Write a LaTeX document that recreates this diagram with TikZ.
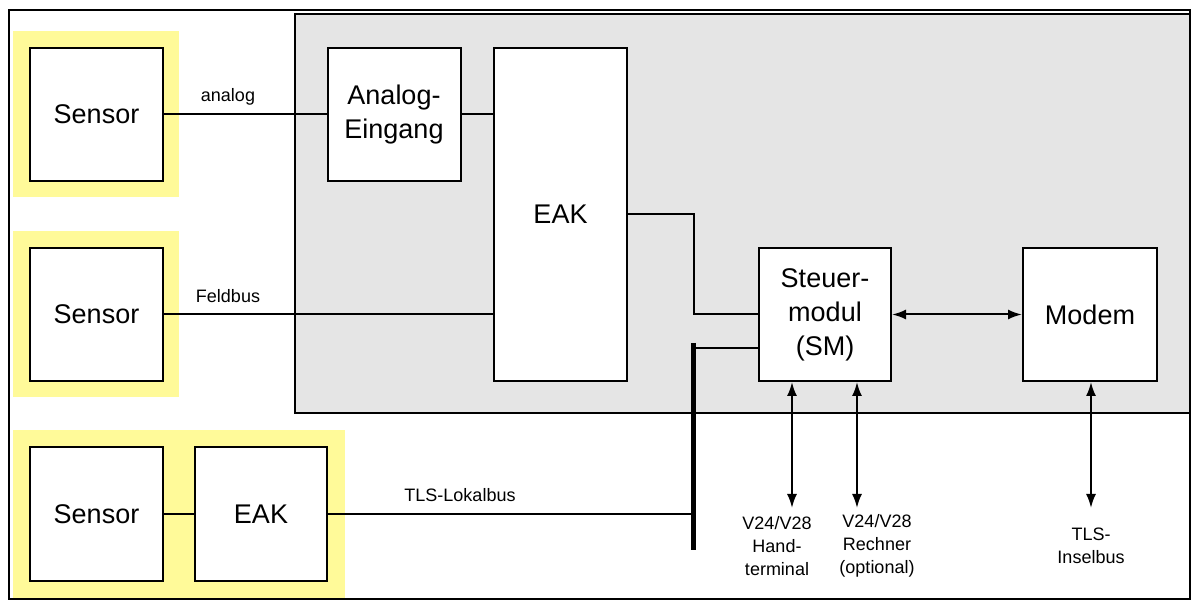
\documentclass[tikz,border=0pt]{standalone}
\usepackage{fontspec}
\setmainfont{Liberation Sans}
\usepackage{xcolor}
\usepackage{tikz}
\usetikzlibrary{arrows.meta,positioning,calc}
\tikzset{
  blk/.style={draw,line width=2pt,fill=white,minimum width=133pt,minimum height=133pt,inner sep=2pt,align=center,font=\fontsize{27}{34}\selectfont},
  lbl/.style={align=center,inner sep=3pt,font=\fontsize{18}{23}\selectfont},
  conn/.style={line width=2pt},
  bus/.style={line width=5pt},
  darr/.style={{Latex[length=14pt,width=10pt]}-{Latex[length=14pt,width=10pt]},line width=2pt},
}
\begin{document}
\begin{tikzpicture}[x=1pt,y=-1pt]
\useasboundingbox (0,0) rectangle (1192,601);
% frame, station area, sensor groups
\draw[line width=2pt] (9,10) rectangle (1190,599);
\draw[line width=2pt,fill=black!10] (295,14) rectangle (1190,413);
\fill[yellow!40] (13,31) rectangle (179,197);
\fill[yellow!40] (13,231) rectangle (179,397);
\fill[yellow!40] (13,430) rectangle (345,598);
% boxes
\node[blk] (s1) at (96.5,114.5) {Sensor};
\node[blk] (ana) at (394,114.5) {Analog-\\Eingang};
\node[blk,minimum height=333pt] (eak) at (560.5,214.5) {EAK};
\node[blk] (s2) at (96.5,314.5) {Sensor};
\node[blk,minimum width=132pt] (sm) at (825,314.5) {Steuer-\\modul\\(SM)};
\node[blk,minimum width=134pt] (modem) at (1090,314.5) {Modem};
\node[blk] (s3) at (96.5,514) {Sensor};
\node[blk,minimum width=132pt] (eak2) at (261,514) {EAK};
% bus
\coordinate (bustop) at (693,343);
\coordinate (busbot) at (693,550);
\coordinate (bj) at (693,348);
\draw[bus] (bustop) -- (busbot);
% connections
\draw[conn] (s1.east) -- (ana.west);
\draw[conn] (ana.east) -- (ana.east -| eak.west);
\draw[conn] (s2.east) -- (s2.east -| eak.west);
\draw[conn] (eak.east) -- ++(66,0) |- (sm.west);
\draw[conn] (bj) -- (bj -| sm.west);
\draw[conn] (s3.east) -- (eak2.west);
\draw[conn] (eak2.east) -- (eak2.east -| bustop);
\node[lbl] (lanalog) at (228,97) {analog};
\node[lbl] (lfeld) at (228,296) {Feldbus};
\node[lbl] (llokal) at (460,495) {TLS-Lokalbus};
% outside interfaces
\node[lbl] (hand) at (777,546) {V24/V28\\Hand-\\terminal};
\node[lbl] (rech) at (877,546) {V24/V28\\Rechner\\(optional)};
\node[lbl] (insel) at (1091,546) {TLS-\\Inselbus};
\coordinate (thand) at (792,508);
\coordinate (trech) at (857,508);
\coordinate (tinsel) at (1091,508);
\draw[darr] (sm.east) -- (modem.west);
\draw[darr] (sm.south -| thand) -- (thand);
\draw[darr] (sm.south -| trech) -- (trech);
\draw[darr] (modem.south -| tinsel) -- (tinsel);
\end{tikzpicture}
\end{document}
